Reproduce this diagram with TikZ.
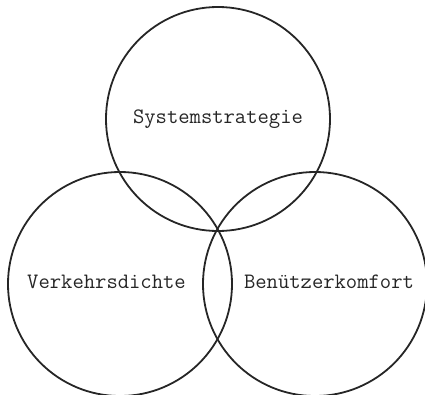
\documentclass[tikz,border=0pt]{standalone}
\usepackage{fontspec}
\begin{document}
\begin{tikzpicture}[x=1pt,y=-1pt,
  ring/.style={draw=black!85,line width=1.8pt},
  lbl/.style={font=\fontsize{22}{24}\selectfont\ttfamily,text=black!85,inner sep=0pt}]
\useasboundingbox (0,0) rectangle (425,394);
\draw[ring] (218,119) circle[radius=112];
\draw[ring] (120,284) circle[radius=112];
\draw[ring] (315,284) circle[radius=112];
\node[lbl] (s) at (218,119) {Systemstrategie};
\node[lbl] (v) at (106.5,282) {Verkehrsdichte};
\node[lbl] (b) at (329,282) {Benützerkomfort};
\end{tikzpicture}
\end{document}
